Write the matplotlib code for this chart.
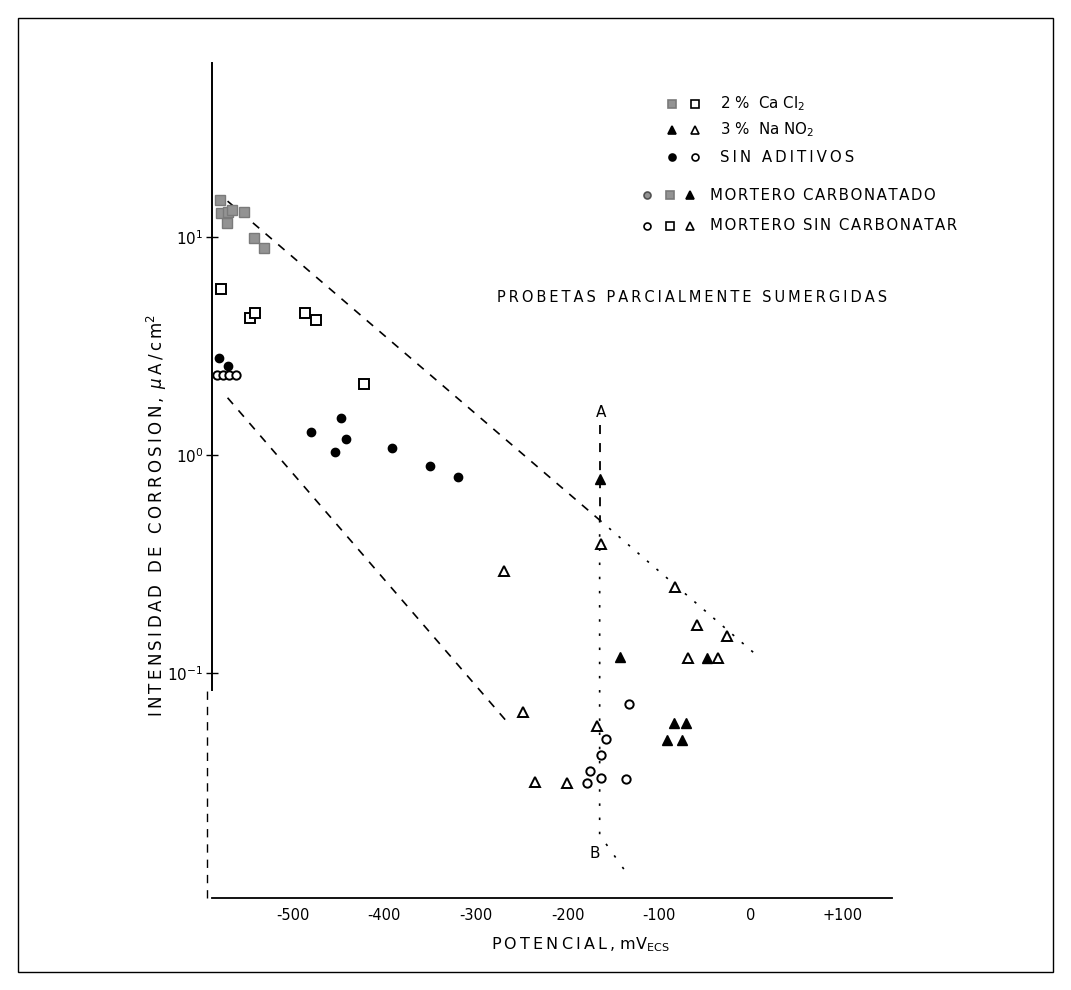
import matplotlib
matplotlib.use('Agg')
import matplotlib.pyplot as plt
from matplotlib.lines import Line2D
from matplotlib.patches import Rectangle

plt.rcParams['font.family'] = ['DejaVu Sans']

# ---------------- data (potential mV, current density uA/cm2) ----------------
cacl2_carb_mv = [-579, -578, -571, -566, -572, -553, -542, -531]
cacl2_carb_i = [14.8, 12.9, 13.0, 13.3, 11.6, 13.0, 9.9, 8.9]

cacl2_nocarb_mv = [-578, -547, -541, -487, -475, -422]
cacl2_nocarb_i = [5.8, 4.25, 4.5, 4.5, 4.16, 2.12]

sin_carb_mv = [-580, -571, -480, -447, -442, -454, -392, -350, -320]
sin_carb_i = [2.79, 2.56, 1.28, 1.48, 1.18, 1.03, 1.08, 0.89, 0.79]

sin_nocarb_mv = [-582, -576, -569, -562, -133, -158, -164, -176, -163, -136, -179]
sin_nocarb_i = [2.33, 2.33, 2.33, 2.33, 0.072, 0.0498, 0.042, 0.0355, 0.033, 0.0326, 0.0313]

nano2_carb_mv = [-165, -143, -48, -84, -71, -91, -75]
nano2_carb_i = [0.776, 0.118, 0.117, 0.059, 0.059, 0.0493, 0.0493]

nano2_nocarb_mv = [-164, -269, -249, -168, -236, -201, -83, -59, -26, -69, -36]
nano2_nocarb_i = [0.391, 0.294, 0.0662, 0.0571, 0.0316, 0.0313, 0.248, 0.166, 0.148, 0.117, 0.117]

# guide lines
upper_mv = [-571, -165, 6]
upper_i = [14.6, 0.503, 0.121]
lower_mv = [-571, -263]
lower_i = [1.83, 0.0577]
vert_mv = [-165, -165, -165, -138]
vert_i = [1.37, 0.503, 0.0181, 0.0125]

xticks = [-500, -400, -300, -200, -100, 0, 100]
xticklabels = ['-500', '-400', '-300', '-200', '-100', '0', '+100']
yticks = [0.1, 1, 10]
yticklabels = ['$10^{-1}$', '$10^{0}$', '$10^{1}$']

# ---------------- figure ----------------
W, H = 1071, 990
fig = plt.figure(figsize=(W / 100, H / 100), dpi=100)


def fx(x):
    return x / W


def fy(y):
    return 1 - y / H


HS = '\u200a'


def sp(s, n=1):
    return (HS * n).join(list(s))


ax = fig.add_axes([fx(212), fy(898), 680 / W, (898 - 63) / H])
ax.set_yscale('log')
ax.set_xlim(-588, 154)
ax.set_ylim(0.00929, 62.8)

for s in ['top', 'right', 'left']:
    ax.spines[s].set_visible(False)
ax.spines['bottom'].set_linewidth(1.3)

# left axis: solid upper part, dashed lower part
yb = (898 - 690) / 835
ax.plot([0, 0], [yb, 1], transform=ax.transAxes, color='black', lw=1.4, clip_on=False)
ax.plot([-0.008, -0.008], [0, yb], transform=ax.transAxes, color='black', lw=1.0,
        ls=(0, (6, 5)), clip_on=False)

ax.set_xticks(xticks)
ax.set_xticklabels(xticklabels)
ax.set_yticks(yticks)
ax.set_yticklabels(yticklabels)
ax.minorticks_off()
ax.tick_params(axis='x', length=0, pad=7, labelsize=10.5)
ax.tick_params(axis='y', direction='inout', length=8, width=1, pad=2, labelsize=11)

# guide lines
ax.plot(upper_mv[:2], upper_i[:2], color='black', lw=1.2, ls=(0, (5, 5)))
ax.plot(upper_mv[1:], upper_i[1:], color='black', lw=1.2, ls=(0, (1.5, 6)))
ax.plot(lower_mv, lower_i, color='black', lw=1.2, ls=(0, (5, 5)))
ax.plot(vert_mv[:2], vert_i[:2], color='black', lw=1.3, ls=(0, (5, 5)))
ax.plot(vert_mv[1:], vert_i[1:], color='black', lw=1.2, ls=(0, (1.5, 7)))

# points
ax.plot(cacl2_carb_mv, cacl2_carb_i, ls='none', marker='s', ms=7, mfc='#939393', mec='#7a7a7a', mew=1)
ax.plot(cacl2_nocarb_mv, cacl2_nocarb_i, ls='none', marker='s', ms=7.5, mfc='white', mec='black', mew=1.4)
ax.plot(sin_carb_mv, sin_carb_i, ls='none', marker='o', ms=6, mfc='black', mec='black')
ax.plot(sin_nocarb_mv, sin_nocarb_i, ls='none', marker='o', ms=6, mfc='white', mec='black', mew=1.4)
ax.plot(nano2_carb_mv, nano2_carb_i, ls='none', marker='^', ms=7, mfc='black', mec='black')
ax.plot(nano2_nocarb_mv, nano2_nocarb_i, ls='none', marker='^', ms=7, mfc='white', mec='black', mew=1.4)

ax.text(-163, 1.56, 'A', ha='center', va='center', fontsize=11)
ax.text(-170, 0.0149, 'B', ha='center', va='center', fontsize=11)

# axis labels
ylab = sp('INTENSIDAD DE CORROSION,', 2) + HS * 2 + ' $\\mu$' + HS * 2 + sp('A/c', 2) + HS * 2 + 'm$^{2}$'
fig.text(fx(157), fy(515), ylab, rotation=90, ha='center', va='center', fontsize=12)
fig.text(fx(580), fy(945), sp('POTENCIAL,', 2) + ' mV$_{\\mathrm{ECS}}$', ha='center', va='center',
         fontsize=11.5)

# legend (drawn as annotation)
rows = [
    (104, [(672, 's', '#939393', '#7a7a7a'), (695, 's', 'white', 'black')], 720, '2 %  Ca Cl$_{2}$', 1),
    (130, [(672, '^', 'black', 'black'), (695, '^', 'white', 'black')], 720, '3 %  Na NO$_{2}$', 1),
    (157, [(672, 'o', 'black', 'black'), (695, 'o', 'white', 'black')], 720, 'SIN ADITIVOS', 2),
    (195, [(647, 'o', '#939393', '#505050'), (670, 's', '#939393', '#7a7a7a'), (690, '^', 'black', 'black')],
     710, 'MORTERO CARBONATADO', 1),
    (226, [(647, 'o', 'white', 'black'), (670, 's', 'white', 'black'), (690, '^', 'white', 'black')],
     710, 'MORTERO SIN CARBONATAR', 1),
]
for y, syms, xt, label, n in rows:
    for x, m, fc, ec in syms:
        fig.add_artist(Line2D([fx(x)], [fy(y)], marker=m, ms=6 if m != 'o' else 5, mfc=fc, mec=ec,
                              mew=1.2, ls='none', transform=fig.transFigure))
    txt = label if '$' in label else sp(label, n)
    fig.text(fx(xt), fy(y), txt, ha='left', va='center', fontsize=10.8)

fig.text(fx(692), fy(297), sp('PROBETAS PARCIALMENTE SUMERGIDAS', 2), ha='center', va='center', fontsize=10.5)

# outer frame
fig.add_artist(Rectangle((fx(18), fy(972)), (1053 - 18) / W, (972 - 18) / H, fill=False,
                         edgecolor='black', lw=1.0, transform=fig.transFigure))

fig.savefig('out.png', dpi=100)
